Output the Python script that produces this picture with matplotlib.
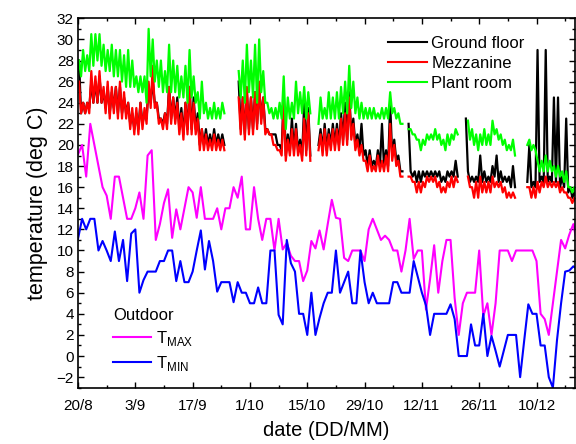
import numpy as np
import matplotlib
matplotlib.use("Agg")
import matplotlib.pyplot as plt
from matplotlib.lines import Line2D
from matplotlib.ticker import MultipleLocator, FixedLocator

plt.rcParams['font.family'] = ['Liberation Sans', 'DejaVu Sans']
plt.rcParams['mathtext.fontset'] = 'custom'
plt.rcParams['mathtext.rm'] = 'Liberation Sans'

N = None

# ---- x axis: days since 20/8 ----
tick_days = [0, 14, 28, 42, 56, 70, 84, 98, 112]
tick_labels = ["20/8", "3/9", "17/9", "1/10", "15/10", "29/10", "12/11", "26/11", "10/12"]

# ---- outdoor daily values (day 0 = 20/8) ----
tmax = [19.1, 20, 17, 22, 20, 18, 16, 15.2, 13, 17,
        17, 15, 13, 13, 14, 15.5, 13, 19, 19.5, 11,
        12.5, 14.5, 15.8, 11.2, 13.9, 12, 14, 16, 15.5, 13.1,
        16, 13, 13, 13, 14, 12, 14, 14, 16, 15,
        17, 12, 12, 16, 13, 11, 13, 13, 10, 13,
        10.1, 10.7, 9.5, 9, 9, 7.1, 8.1, 10.9, 10.2, 11.9,
        10.1, 12.5, 14.8, 13.1, 13, 9.3, 9, 10, 10, 10,
        9, 12, 13, 12, 11, 11.4, 11, 10, 10, 8,
        10, 13, 9.2, 10, 10, 4.4, 7.3, 10.5, 6, 9,
        11, 11, 5.5, 2, 5, 6, 6, 6, 10, 3.8,
        5, 2, 5, 10, 10, 10, 9, 10, 10, 10,
        10, 10, 9, 4, 3.5, 2, 5, 8, 11, 10.2,
        11.5, 12.5, 10.5]
tmin = [11.1, 13, 12, 13, 13, 10, 10.9, 10, 9, 11.8,
        9, 11, 7.1, 11.6, 12, 6, 7.2, 8, 8, 8,
        9, 9, 10, 10, 7.1, 9, 7, 7, 8, 10,
        11.9, 8.2, 10.9, 9, 6.1, 7, 7, 7, 5.1, 7,
        6, 6, 5, 5, 6.5, 5, 5, 10, 10, 3.9,
        3, 11, 8.8, 8, 4, 4, 2, 6, 2, 3.6,
        5, 6, 6, 10, 6, 7, 8, 5, 5, 10,
        7, 5, 6, 5, 5, 5, 5, 7, 7, 6,
        6, 6, 9, 7.5, 6, 4.8, 2, 4, 4, 4,
        4, 4.9, 3.5, 0, 0, 0, 3, 1, 1, 4,
        0, 1.9, 0.5, -1, 0.5, 2, 2, 2, -2, 1.5,
        4.9, 4, 4, 1, 1, -2, -3, 1.5, 5, 8,
        8.1, 8.5, 8.2]

# ---- indoor: daily high / low readings (None = no data) ----
ground_hi = [28, 24, 24, 26, 26, 26.5, 25, 25.5, 25, 25.5,
             25.5, 24.5, 24, 23, 23, 24, 23, 25.5, 26, 24,
             22.5, 23, 25.5, 24.5, 24.5, 23.5, 24, 25.5, 24.5, 23,
             21.5, 21.5, 21, 21.5, 21, 21, N, N, N, 26,
             24.5, 25, 24.5, 25, 25.5, 24.5, 21.5, 21, 21, 20,
             25, 21, 22.5, 22, 20.5, 24, 23.5, N, N, 21.5,
             22, 21.5, 22, 22, 23, 24, 25, 22.5, 21, 22,
             19.5, 19.5, 18.5, 19.5, 22, 19.5, 24, 20.5, 19, 17.5,
             N, 17.5, 17.5, 17.5, 17.5, 17.5, 17.5, 17.5, 17.5, 17,
             17.5, 17.5, 18.5, N, N, 17.5, 17, 17, 19, 17.5,
             17, 18, 19, 17.5, 17, 17, 18, N, N, N,
             20, 16.5, 29, 17, 29, 17, 24.5, 24.5, 17, 22.5,
             16, 15.5]
ground_lo = [23, 23, 23.5, 24, 24, 24, 23.5, 23, 23.5, 23,
             23, 23, 22, 21.5, 21.5, 22, 22.5, 24, 24, 22.5,
             22, 22, 22.5, 22.5, 21.5, 21, 21.5, 21.5, 21.5, 20,
             20, 20, 20, 20, 20, 20, N, N, N, 21.5,
             21, 21.5, 21.5, 22, 22.5, 21.5, 21, 21, 20, 19.5,
             19, 19.5, 19.5, 19.5, 19, 19.5, 19, N, 20, 19.5,
             19.5, 20, 20, 20, 20.5, 20.5, 21, 20, 19.5, 19,
             18, 18, 18, 18, 18, 18, 19, 18.5, 17.5, N,
             22, 17, 16.5, 16.5, 17, 17, 17, 17, 16.5, 16.5,
             17, 17, 17, N, 22.5, 16.5, 16.5, 16.5, 16.5, 16.5,
             16.5, 17, 16.5, 16.5, 16.5, 16, 16, N, N, 16.5,
             16, 16, 16.5, 16.5, 16.5, 16.5, 16.5, 16, 16, 15.5,
             15, 15]
mezz_hi = [26, 24, 24, 27, 26.5, 27, 25.5, 26, 25.5, 25.5,
           26, 25, 24, 23.5, 23.5, 24, 23.5, 26, 27.5, 24,
           22.5, 23, 25.5, 24.5, 24, 23, 24, 25.5, 24, 22.5,
           21.5, 21, 20.5, 21, 20.5, 20.5, N, N, N, 24.5,
           24.5, 25.5, 24.5, 25, 26, 24.5, 21.5, 21, 20, 19.5,
           24, 20.5, 21.5, 21.5, 20, 22.5, 23, N, N, 21,
           21.5, 21, 21.5, 21.5, 22.5, 23, 24.5, 22, 20.5, 20,
           18.5, 19, 18, 19, 18.5, 19, 22, 20, 18.5, 17,
           N, 17, 16.5, 16.5, 16.5, 17, 17, 17, 16.5, 16,
           16.5, 17, 17, N, N, 17, 16, 16.5, 17, 16.5,
           16.5, 17, 16.5, 16.5, 16, 15.5, 15.5, N, N, N,
           16, 16, 16.5, 16.5, 17, 16.5, 16.5, 16.5, 16, 15.5,
           15, 15]
mezz_lo = [23, 23, 23, 24, 24, 24, 23, 22.5, 23, 22.5,
           22.5, 22.5, 21.5, 21, 21, 21.5, 22, 23.5, 23.5, 22,
           21.5, 21.5, 22, 22, 21, 20.5, 21, 21, 21, 19.5,
           19.5, 19.5, 19.5, 19.5, 19.5, 19.5, N, N, N, 21,
           20.5, 21, 21, 21.5, 22, 21, 21, 20, 19.5, 19,
           18.5, 19, 19, 19, 18.5, 19, 18.5, N, 19.5, 19,
           19, 19.5, 19.5, 19.5, 20, 20, 20.5, 19.5, 19, 18.5,
           17.5, 17.5, 17.5, 17.5, 17.5, 17.5, 18.5, 18, 17, N,
           17, 16.5, 15.5, 15.5, 16, 16.5, 16.5, 16, 15.5, 15.5,
           16, 16, 16.5, N, N, 16, 15, 15, 15.5, 15.5,
           15.5, 16, 16, 15.5, 15, 15, 15, N, N, 16,
           15, 15, 15.5, 16, 16, 16, 16, 15.5, 15.5, 15,
           14.5, 14.5]
plant_hi = [28, 29, 28.5, 30.5, 30.5, 30.5, 29.5, 29, 29.5, 29,
            29, 28.5, 29, 28, 26.5, 26.5, 26.5, 31, 30, 28,
            28, 27, 29.5, 28, 27.5, 26.5, 27.5, 29, 26.5, 25,
            26, 24, 23.5, 24, 23.5, 24, N, N, N, 27,
            28, 29.5, 28, 29.5, 30, 27, 24, 23.5, 23.5, 24,
            26.5, 24.5, 24, 26, 25, 25.5, 25, N, N, 24.5,
            23.5, 25, 24.5, 25, 25.5, 26, 27.5, 26, 24.5, 24,
            23.5, 23.5, 23.5, 23, 23.5, 23.5, 25, 23.5, 23, 22,
            N, 21.5, 21, 20.5, 20.5, 21, 21, 21.5, 21, 20.5,
            21, 21, 21.5, N, N, 22.3, 21.5, 21, 21, 21.5,
            21, 22.3, 21.5, 21, 20.5, 20, 20.5, N, N, N,
            20.5, 20, 18.5, 18.5, 19, 18.5, 18, 18, 17.5, 17.5,
            16, 16]
plant_lo = [26.5, 27, 27, 27.5, 28, 27.5, 27, 27, 26.5, 26.5,
            26, 25.5, 25.5, 25.5, 25, 25, 24, 26.5, 26, 25.5,
            25, 25, 25, 25, 24.5, 24.5, 24, 24.5, 24, 22.5,
            23, 22.5, 22.5, 22.5, 22.5, 23, N, N, N, 24.5,
            24, 25, 24.5, 24, 25, 24, 23, 22.5, 22.5, 22.5,
            21.5, 22.5, 22.5, 23, 23, 22.5, 23, N, 22, 22.5,
            22.5, 22.5, 22.5, 22.5, 23, 23, 23.5, 23, 22.5, 22.5,
            22.5, 22.5, 22.5, 22.5, 22.5, 22.5, 23, 22.5, 22, N,
            21.5, 21, 20.5, 19.5, 20, 20.5, 20.5, 20.5, 20, 19.5,
            20, 20.5, 21, N, N, 20.5, 20, 19.5, 20, 20,
            20, 21, 20.5, 20, 19.5, 19.5, 19, N, N, 20,
            19.5, 19.5, 17.5, 17.5, 17.5, 17.5, 17, 17, 16.5, 16,
            15.5, 15.5]


def half_day(hi, lo):
    hi = np.array([np.nan if v is None else v for v in hi], float)
    lo = np.array([np.nan if v is None else v for v in lo], float)
    d = np.arange(len(hi))
    t = np.column_stack([d + 0.25, d + 0.75]).ravel()
    v = np.column_stack([hi, lo]).ravel()
    return t, v


fig = plt.figure(figsize=(5.76, 4.44), dpi=100)
ax = fig.add_axes([78 / 576, (444 - 387.7) / 444, (575 - 78) / 576, (387.7 - 18.3) / 444])

lw = 1.5
lw_in = 1.6
for hi, lo, col in [(ground_hi, ground_lo, 'black'),
                    (mezz_hi, mezz_lo, '#ff0000'),
                    (plant_hi, plant_lo, '#00ff00')]:
    t, v = half_day(hi, lo)
    ax.plot(t, v, color=col, lw=lw_in)

ax.plot(np.arange(len(tmax)), tmax, color='#ff00ff', lw=lw)
ax.plot(np.arange(len(tmin)), tmin, color='#0000ff', lw=lw)

ax.set_xlim(0, 121.4)
ax.set_ylim(-3, 32)
ax.xaxis.set_major_locator(FixedLocator(tick_days))
ax.set_xticklabels(tick_labels)
ax.xaxis.set_minor_locator(MultipleLocator(7))
ax.yaxis.set_major_locator(MultipleLocator(2))
ax.yaxis.set_minor_locator(MultipleLocator(1))
ax.tick_params(which='both', direction='in', top=True, right=True, width=1.0,
               labelsize=11, colors='black')
ax.tick_params(which='major', length=4)
ax.tick_params(which='minor', length=2.5)
ax.tick_params(axis='x', pad=8)
ax.tick_params(axis='y', pad=3)
for s in ax.spines.values():
    s.set_linewidth(1.2)

ax.set_xlabel('date (DD/MM)', fontsize=14.5, labelpad=6)
ax.set_ylabel('temperature (deg C)', fontsize=15.5, labelpad=6)

handles1 = [Line2D([], [], color=c, lw=lw) for c in ('black', '#ff0000', '#00ff00')]
leg1 = ax.legend(handles1, ['Ground floor', 'Mezzanine', 'Plant room'],
                 loc='upper left', bbox_to_anchor=(0.624, 0.953), frameon=False,
                 fontsize=12, handlelength=2.35, handletextpad=0.25,
                 labelspacing=0.31, borderpad=0, borderaxespad=0)
ax.add_artist(leg1)

handles2 = [Line2D([], [], color='#ff00ff', lw=lw), Line2D([], [], color='#0000ff', lw=lw)]
leg2 = ax.legend(handles2, [r'T$_{\mathregular{MAX}}$', r'T$_{\mathregular{MIN}}$'],
                 loc='upper left', bbox_to_anchor=(0.07, 0.215), frameon=False,
                 fontsize=12, title='Outdoor', title_fontsize=12, alignment='left',
                 handlelength=2.3, handletextpad=0.3, labelspacing=0.35,
                 borderpad=0, borderaxespad=0)

fig.savefig('out.png', dpi=100)
